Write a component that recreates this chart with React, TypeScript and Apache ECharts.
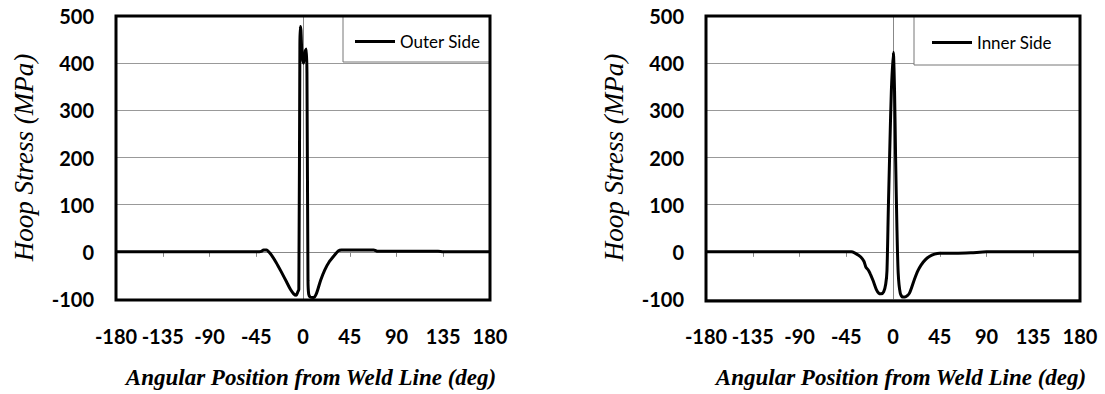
import React, { useEffect, useRef } from "react";
import * as echarts from "echarts";

// Outer side (left panel)
const outerAngle = [-180, -135, -90, -60, -45, -40, -38, -35, -33, -30, -26, -21, -16, -12, -9, -6.5, -5, -4, -3, -2.6, -2, -1, 0.5, 2, 3.2, 3.8, 4.8, 5.5, 7, 10, 13, 17, 21, 25, 30, 34, 37, 45, 60, 68, 72, 90, 130, 135, 180];
const outerStress = [0, 0, 0, 0, 0, 1, 4, 4, 0, -8, -22, -42, -63, -80, -89, -92, -85, -80, 440, 478, 470, 420, 400, 425, 430, 380, -60, -90, -96, -97, -88, -60, -38, -22, -8, 2, 4, 4, 4, 4, 1, 1, 1, 0, 0];

// Inner side (right panel)
const innerAngle = [-180, -135, -90, -60, -40, -37, -34, -31, -28, -26, -24, -22, -19, -16, -13.5, -11.5, -9, -7, -5.8, -4.5, -2.9, -1.6, 0.3, 1.5, 2.5, 3.7, 5, 7, 9.3, 11.5, 15.7, 20.5, 24, 27, 31, 35, 40, 45, 60, 75, 90, 135, 180];
const innerStress = [0, 0, 0, 0, 0, -2, -6, -11, -20, -33, -38, -46, -62, -80, -88, -89, -85, -68, -40, 90, 235, 340, 423, 340, 200, 60, -45, -88, -96, -96, -88, -59, -40, -28, -17, -10, -5, -3, -3, -2, 0, 0, 0];

const seriesNames = ["Outer Side", "Inner Side"];
const xMin = -180;
const xMax = 180;
const xStep = 45;
const yMin = -100;
const yMax = 500;
const yStep = 100;
const xTitle = "Angular Position from Weld Line (deg)";
const yTitle = "Hoop Stress (MPa)";

const tickFont = { fontFamily: "Lato", fontWeight: "bold" as const, fontSize: 20, color: "#000" };

export default function App() {
  const ref = useRef<HTMLDivElement>(null);
  useEffect(() => {
    if (!ref.current) return;
    const chart = echarts.init(ref.current, undefined, { renderer: "svg" });
    const grids = [
      { left: 116, top: 16, width: 374, height: 284 },
      { left: 706, top: 16, width: 374, height: 285 },
    ];
    const xAxes: any[] = [];
    const yAxes: any[] = [];
    grids.forEach((_, g) => {
      xAxes.push({
        type: "value", gridIndex: g, position: "bottom", min: xMin, max: xMax, interval: xStep,
        axisLine: { show: false, onZero: false }, axisTick: { show: false }, splitLine: { show: false },
        axisLabel: { ...tickFont, margin: 27 },
        name: xTitle, nameLocation: "middle", nameGap: 67,
        nameTextStyle: { fontFamily: "Liberation Serif", fontStyle: "italic", fontWeight: "bold", fontSize: 23, color: "#000", padding: [0, 0, 0, 16] },
      });
      xAxes.push({
        type: "value", gridIndex: g, position: "top", min: xMin, max: xMax, interval: xStep,
        axisLine: { show: true, onZero: true, lineStyle: { color: "#888", width: 1 } },
        axisTick: { show: true, inside: true, length: 5, lineStyle: { color: "#888" } },
        axisLabel: { show: false }, splitLine: { show: false },
      });
      yAxes.push({
        type: "value", gridIndex: g, position: "left", min: yMin, max: yMax, interval: yStep,
        axisLine: { show: false, onZero: false }, axisTick: { show: false },
        splitLine: { show: true, lineStyle: { color: "#999", width: 1 } },
        axisLabel: { ...tickFont, margin: 22 },
        name: yTitle, nameLocation: "middle", nameGap: 79, nameRotate: 90,
        nameTextStyle: { fontFamily: "Liberation Serif", fontStyle: "italic", fontSize: 27, color: "#000" },
      });
      yAxes.push({
        type: "value", gridIndex: g, position: "right", min: yMin, max: yMax, interval: yStep,
        axisLine: { show: true, onZero: true, lineStyle: { color: "#888", width: 1 } },
        axisTick: { show: false }, axisLabel: { show: false }, splitLine: { show: false },
      });
    });
    const datasets = [
      outerAngle.map((a, i) => [a, outerStress[i]]),
      innerAngle.map((a, i) => [a, innerStress[i]]),
    ];
    const legendText = { fontFamily: "Lato", fontSize: 17, color: "#000" };
    chart.setOption({
      animation: false,
      backgroundColor: "#fff",
      grid: grids.map((gr) => ({ ...gr, show: true, borderWidth: 0, backgroundColor: "#fff" })),
      xAxis: xAxes,
      yAxis: yAxes,
      graphic: [
        { type: "rect", z: 1, shape: { x: 343, y: 16, width: 147, height: 46 }, style: { fill: "#fff", stroke: "#777", lineWidth: 1 } },
        { type: "rect", z: 1, shape: { x: 914, y: 16, width: 166, height: 49 }, style: { fill: "#fff", stroke: "#777", lineWidth: 1 } },
        ...grids.map((gr) => ({
          type: "rect", z: 2, silent: true,
          shape: { x: gr.left, y: gr.top, width: gr.width, height: gr.height },
          style: { fill: "none", stroke: "#000", lineWidth: 3 },
        })),
      ],
      legend: [
        { data: [seriesNames[0]], left: 355, top: 33, padding: 0, icon: "rect", itemWidth: 40, itemHeight: 3, textStyle: legendText },
        { data: [seriesNames[1]], left: 932, top: 34, padding: 0, icon: "rect", itemWidth: 40, itemHeight: 3, textStyle: legendText },
      ],
      series: datasets.map((d, g) => ({
        name: seriesNames[g], type: "line", xAxisIndex: 2 * g, yAxisIndex: 2 * g,
        data: d, symbol: "none", smooth: 0.25, z: 3,
        lineStyle: { color: "#000", width: 3 }, itemStyle: { color: "#000" },
      })),
    });
    return () => chart.dispose();
  }, []);
  return <div ref={ref} style={{ position: "absolute", left: 0, top: 0, width: 1105, height: 394 }} />;
}
